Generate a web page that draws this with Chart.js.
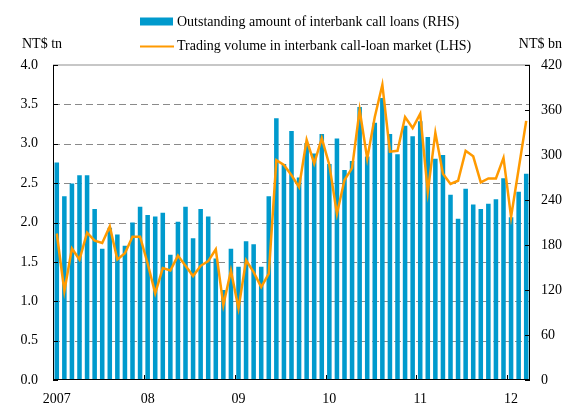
<!DOCTYPE html>
<html>
<head>
<meta charset="utf-8">
<script src="https://cdn.jsdelivr.net/npm/chart.js@4.4.1/dist/chart.umd.min.js"></script>
<style>
  body { margin: 0; background: #fff; }
</style>
</head>
<body>
<canvas id="myChart" width="564" height="407"></canvas>
<script>
// Monthly, Jan 2007 - Mar 2012
const yearLabels = ['2007', '08', '09', '10', '11', '12'];
const months = [];
for (let i = 0; i < 63; i++) {
    months.push(yearLabels[Math.floor(i / 12)] + '-' + (i % 12 + 1));
}

// Outstanding amount of interbank call loans, NT$ bn (RHS)
const outstanding = [
    290, 245, 262, 273, 273, 228, 175, 203, 194, 179, 210, 231,
    220, 218, 223, 167, 211, 231, 189, 228, 218, 162, 120, 175,
    151, 185, 181, 151, 245, 349, 288, 332, 270, 316, 302, 328,
    288, 322, 280, 292, 364, 298, 343, 376, 328, 301, 339, 325,
    345, 324, 295, 300, 247, 215, 255, 234, 228, 235, 241, 269,
    217, 251, 275
];

// Trading volume in interbank call-loan market, NT$ tn (LHS)
const tradingVolume = [
    1.86, 1.13, 1.67, 1.53, 1.87, 1.77, 1.74, 1.95, 1.53, 1.61, 1.82, 1.82,
    1.48, 1.10, 1.42, 1.39, 1.58, 1.45, 1.32, 1.45, 1.51, 1.66, 0.95, 1.39,
    0.91, 1.52, 1.37, 1.18, 1.35, 2.79, 2.73, 2.60, 2.45, 3.05, 2.75, 3.07,
    2.73, 2.11, 2.54, 2.69, 3.43, 2.81, 3.34, 3.75, 2.90, 2.91, 3.34, 3.20,
    3.38, 2.39, 3.14, 2.62, 2.49, 2.53, 2.91, 2.84, 2.51, 2.56, 2.56, 2.82,
    2.07, 2.68, 3.29
];

const leftTicks = [0, 0.5, 1.0, 1.5, 2.0, 2.5, 3.0, 3.5, 4.0];
const rightTicks = [0, 60, 120, 180, 240, 300, 360, 420];

const barColor = '#009acd';
const lineColor = '#ff9a00';
const serif = "'Liberation Serif', 'Times New Roman', serif";

// grid, inward ticks, axis lines, legend and unit labels
const decor = {
    id: 'decor',
    beforeDatasetsDraw(chart) {
        const { ctx, chartArea: a, scales: { y } } = chart;
        ctx.save();
        ctx.strokeStyle = '#8a8a8a';
        ctx.lineWidth = 1;
        ctx.setLineDash([7, 4]);
        leftTicks.forEach(v => {
            if (v <= 0 || v >= 4) return;
            const py = Math.round(y.getPixelForValue(v)) + 0.5;
            ctx.beginPath();
            ctx.moveTo(a.left, py);
            ctx.lineTo(a.right, py);
            ctx.stroke();
        });
        ctx.restore();
    },
    afterDatasetsDraw(chart) {
        const { ctx, chartArea: a, scales: { x, y, y1 } } = chart;
        ctx.save();
        // top border
        ctx.strokeStyle = '#b4b4b4';
        ctx.lineWidth = 1.5;
        ctx.beginPath();
        ctx.moveTo(a.left, a.top);
        ctx.lineTo(a.right, a.top);
        ctx.stroke();

        ctx.strokeStyle = '#000';
        ctx.lineWidth = 1;
        ctx.beginPath();
        ctx.moveTo(a.left + 0.5, a.top);
        ctx.lineTo(a.left + 0.5, a.bottom);
        ctx.moveTo(a.right - 0.5, a.top);
        ctx.lineTo(a.right - 0.5, a.bottom);
        ctx.moveTo(a.left, a.bottom - 0.5);
        ctx.lineTo(a.right, a.bottom - 0.5);
        leftTicks.forEach(v => {
            const py = Math.round(y.getPixelForValue(v)) + 0.5;
            ctx.moveTo(a.left, py);
            ctx.lineTo(a.left + 5, py);
        });
        rightTicks.forEach(v => {
            const py = Math.round(y1.getPixelForValue(v)) + 0.5;
            ctx.moveTo(a.right, py);
            ctx.lineTo(a.right - 5, py);
        });
        for (let i = 12; i < months.length; i += 12) {
            const px = Math.round((x.getPixelForValue(i - 1) + x.getPixelForValue(i)) / 2) + 0.5;
            ctx.moveTo(px, a.bottom);
            ctx.lineTo(px, a.bottom - 5);
        }
        ctx.stroke();
        ctx.restore();
    },
    afterDraw(chart) {
        const { ctx } = chart;
        ctx.save();
        ctx.font = '14px ' + serif;
        ctx.fillStyle = '#000';
        ctx.textBaseline = 'alphabetic';

        ctx.fillStyle = barColor;
        ctx.fillRect(140, 17.5, 33, 8);
        ctx.strokeStyle = lineColor;
        ctx.lineWidth = 2;
        ctx.beginPath();
        ctx.moveTo(140, 46.5);
        ctx.lineTo(174, 46.5);
        ctx.stroke();

        ctx.fillStyle = '#000';
        ctx.textAlign = 'left';
        ctx.fillText('Outstanding amount of interbank call loans (RHS)', 177, 26);
        ctx.fillText('Trading volume in interbank call-loan market (LHS)', 177, 50);
        ctx.fillText('NT$ tn', 22, 47.5);
        ctx.textAlign = 'right';
        ctx.fillText('NT$ bn', 562, 47.5);
        ctx.restore();
    }
};

new Chart('myChart', {
    data: {
        labels: months,
        datasets: [
            {
                type: 'line',
                label: 'Trading volume in interbank call-loan market (LHS)',
                data: tradingVolume,
                yAxisID: 'y',
                borderColor: lineColor,
                borderWidth: 2.5,
                pointRadius: 0,
                tension: 0,
                order: 0
            },
            {
                type: 'bar',
                label: 'Outstanding amount of interbank call loans (RHS)',
                data: outstanding,
                yAxisID: 'y1',
                backgroundColor: barColor,
                barPercentage: 0.6,
                categoryPercentage: 1.0,
                order: 1
            }
        ]
    },
    options: {
        responsive: false,
        animation: false,
        layout: { padding: { top: 65, left: 0, right: 0, bottom: 0 } },
        plugins: {
            legend: { display: false },
            tooltip: { enabled: false }
        },
        scales: {
            x: {
                offset: true,
                grid: { display: false, drawTicks: false },
                border: { display: false },
                afterFit: (s) => { s.height = 27; },
                ticks: {
                    autoSkip: false,
                    maxRotation: 0,
                    padding: 11,
                    color: '#000',
                    font: { family: serif, size: 14 },
                    callback: (v, i) => (i % 12 === 0 ? yearLabels[i / 12] : '')
                }
            },
            y: {
                position: 'left',
                min: 0,
                max: 4,
                grid: { display: false, drawTicks: false },
                border: { display: false },
                afterFit: (s) => { s.width = 53; },
                ticks: {
                    stepSize: 0.5,
                    padding: 15,
                    color: '#000',
                    font: { family: serif, size: 14 },
                    callback: (v) => v.toFixed(1)
                }
            },
            y1: {
                position: 'right',
                min: 0,
                max: 420,
                grid: { display: false, drawTicks: false },
                border: { display: false },
                afterFit: (s) => { s.width = 34; },
                ticks: {
                    stepSize: 60,
                    padding: 11,
                    color: '#000',
                    font: { family: serif, size: 14 }
                }
            }
        }
    },
    plugins: [decor]
});
</script>
</body>
</html>
